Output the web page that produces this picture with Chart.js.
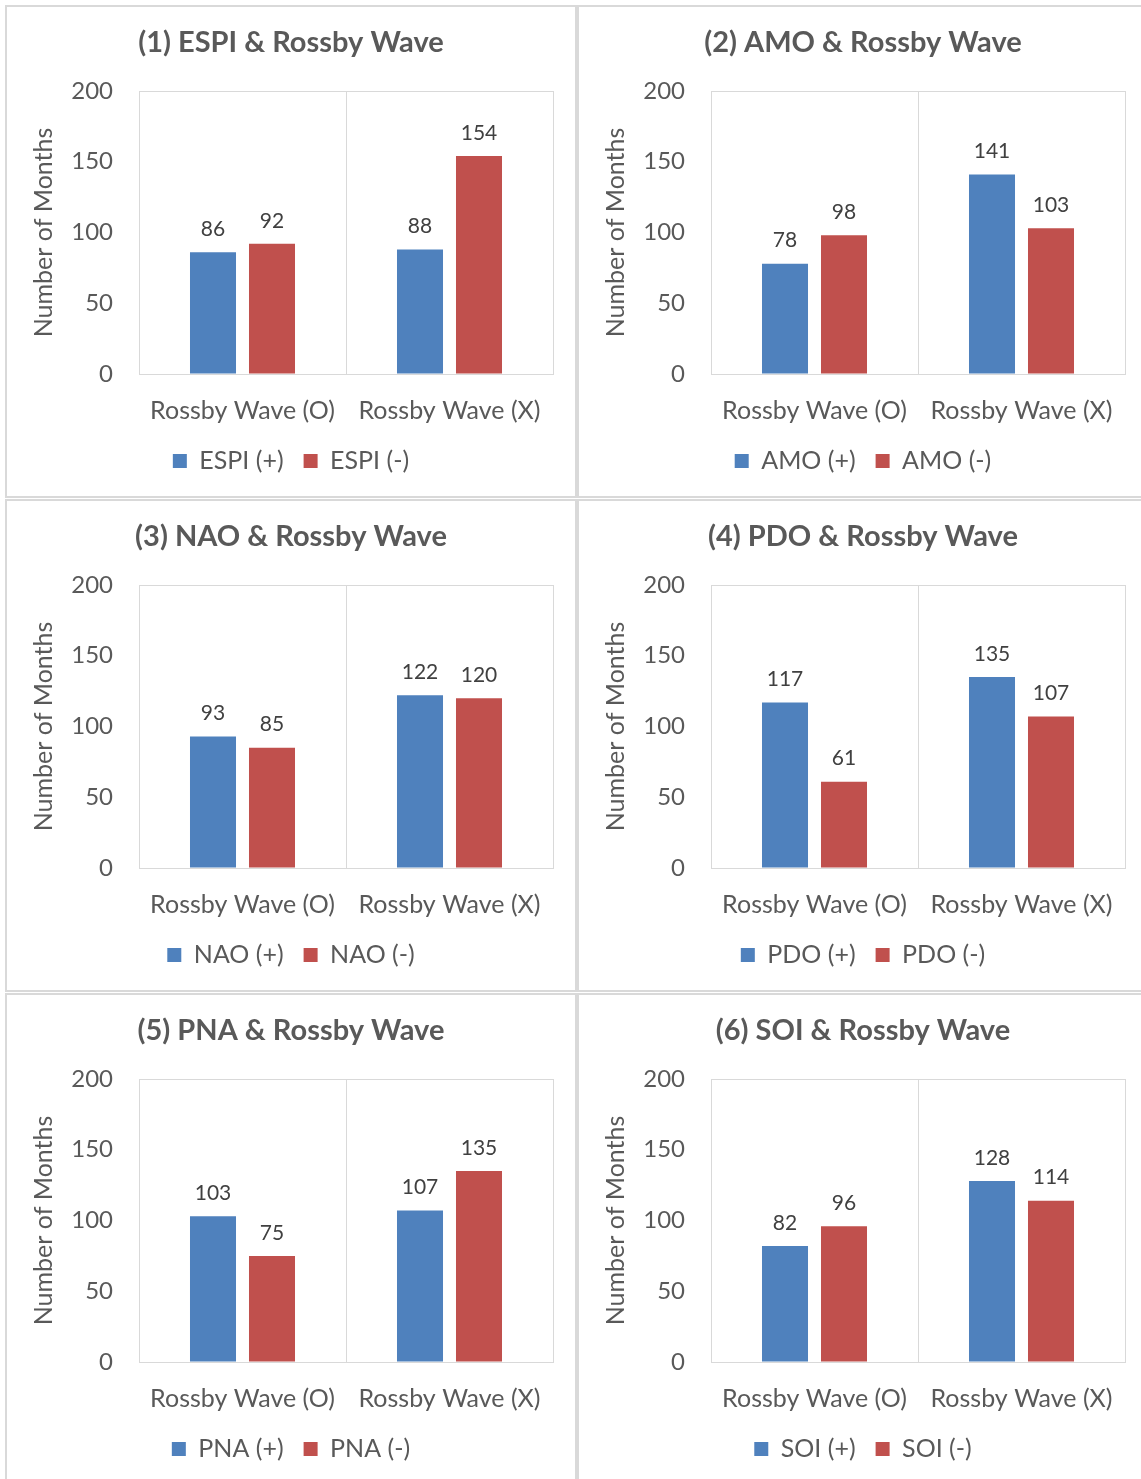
<!DOCTYPE html>
<html>
<head>
<meta charset="utf-8">
<script src="https://cdn.jsdelivr.net/npm/chart.js@4.4.1/dist/chart.umd.min.js"></script>
<style>
  html, body { margin: 0; padding: 0; background: #ffffff; }
  body { width: 1141px; height: 1479px; position: relative; overflow: hidden; }
  .panel { position: absolute; width: 568px; height: 489px; border: 2px solid #d9d9d9; background: #fff; }
  .panel canvas { display: block; }
</style>
</head>
<body>
<script>
// Category labels on the x axis
const categories = ['Rossby Wave (O)', 'Rossby Wave (X)'];
// Climate indices, one panel each
const indices = ['ESPI', 'AMO', 'NAO', 'PDO', 'PNA', 'SOI'];
// Number of months with a positive index phase: [Rossby Wave (O), Rossby Wave (X)]
const positiveMonths = [
  [86, 88],
  [78, 141],
  [93, 122],
  [117, 135],
  [103, 107],
  [82, 128]
];
// Number of months with a negative index phase: [Rossby Wave (O), Rossby Wave (X)]
const negativeMonths = [
  [92, 154],
  [98, 103],
  [85, 120],
  [61, 107],
  [75, 135],
  [96, 114]
];
// Y axis range
const yMin = 0;
const yMax = 200;
const yStep = 50;
const yTitle = 'Number of Months';

const panelLeft = [5, 577];
const panelTop = [5, 499, 993];

const BLUE = '#4f81bd';
const RED = '#c0504d';
const GRID = '#d9d9d9';
const TEXT = '#595959';
const FONT = 'Lato, "Open Sans", sans-serif';

Chart.defaults.font.family = FONT;
Chart.defaults.color = TEXT;

// Draws each bar's value just above the bar
const valueLabels = {
  id: 'valueLabels',
  afterDatasetsDraw(chart) {
    const ctx = chart.ctx;
    ctx.save();
    ctx.font = '21px ' + FONT;
    ctx.fillStyle = '#404040';
    ctx.textAlign = 'center';
    ctx.textBaseline = 'middle';
    chart.data.datasets.forEach((ds, di) => {
      chart.getDatasetMeta(di).data.forEach((bar, i) => {
        ctx.fillText(String(ds.data[i]), bar.x, bar.y - 23);
      });
    });
    ctx.restore();
  }
};

indices.forEach((name, k) => {
  const div = document.createElement('div');
  div.className = 'panel';
  div.style.left = panelLeft[k % 2] + 'px';
  div.style.top = panelTop[Math.floor(k / 2)] + 'px';
  const canvas = document.createElement('canvas');
  canvas.width = 568;
  canvas.height = 489;
  div.appendChild(canvas);
  document.body.appendChild(div);

  new Chart(canvas, {
    type: 'bar',
    data: {
      labels: categories,
      datasets: [
        { label: name + ' (+)', data: positiveMonths[k], backgroundColor: BLUE },
        { label: name + ' (-)', data: negativeMonths[k], backgroundColor: RED }
      ]
    },
    options: {
      responsive: false,
      animation: false,
      devicePixelRatio: 1,
      categoryPercentage: 0.57,
      barPercentage: 0.78,
      layout: { padding: { left: 0, right: 0, top: 0, bottom: 12.5 } },
      plugins: {
        title: {
          display: true,
          text: '(' + (k + 1) + ') ' + name + ' & Rossby Wave',
          color: TEXT,
          font: { size: 29, weight: 'bold' },
          padding: { top: 18.6, bottom: 30.6 }
        },
        legend: {
          position: 'bottom',
          labels: {
            color: TEXT,
            font: { size: 25 },
            boxWidth: 14,
            boxHeight: 14,
            padding: 20
          }
        },
        tooltip: { enabled: false }
      },
      scales: {
        x: {
          grid: { color: GRID, drawTicks: false, offset: true },
          border: { color: GRID },
          ticks: { color: TEXT, font: { size: 25 }, padding: 22 },
          afterFit(scale) { scale.height = 54.5; }
        },
        y: {
          min: yMin,
          max: yMax,
          grid: {
            drawTicks: false,
            color: (c) => (c.tick && c.tick.value === yMax ? GRID : 'rgba(0,0,0,0)')
          },
          border: { color: GRID },
          ticks: { stepSize: yStep, color: TEXT, font: { size: 24 }, padding: 26 },
          title: {
            display: true,
            text: yTitle,
            color: TEXT,
            font: { size: 25 },
            padding: { top: 22, bottom: 0 }
          },
          afterFit(scale) { scale.width = 132; }
        },
        // empty margin on the right of the plot, keeps title and legend centred on the panel
        rightMargin: {
          type: 'linear',
          position: 'right',
          grid: { display: false },
          border: { display: false },
          ticks: { display: false },
          afterFit(scale) { scale.width = 22; }
        }
      }
    },
    plugins: [valueLabels]
  });
});
</script>
</body>
</html>
